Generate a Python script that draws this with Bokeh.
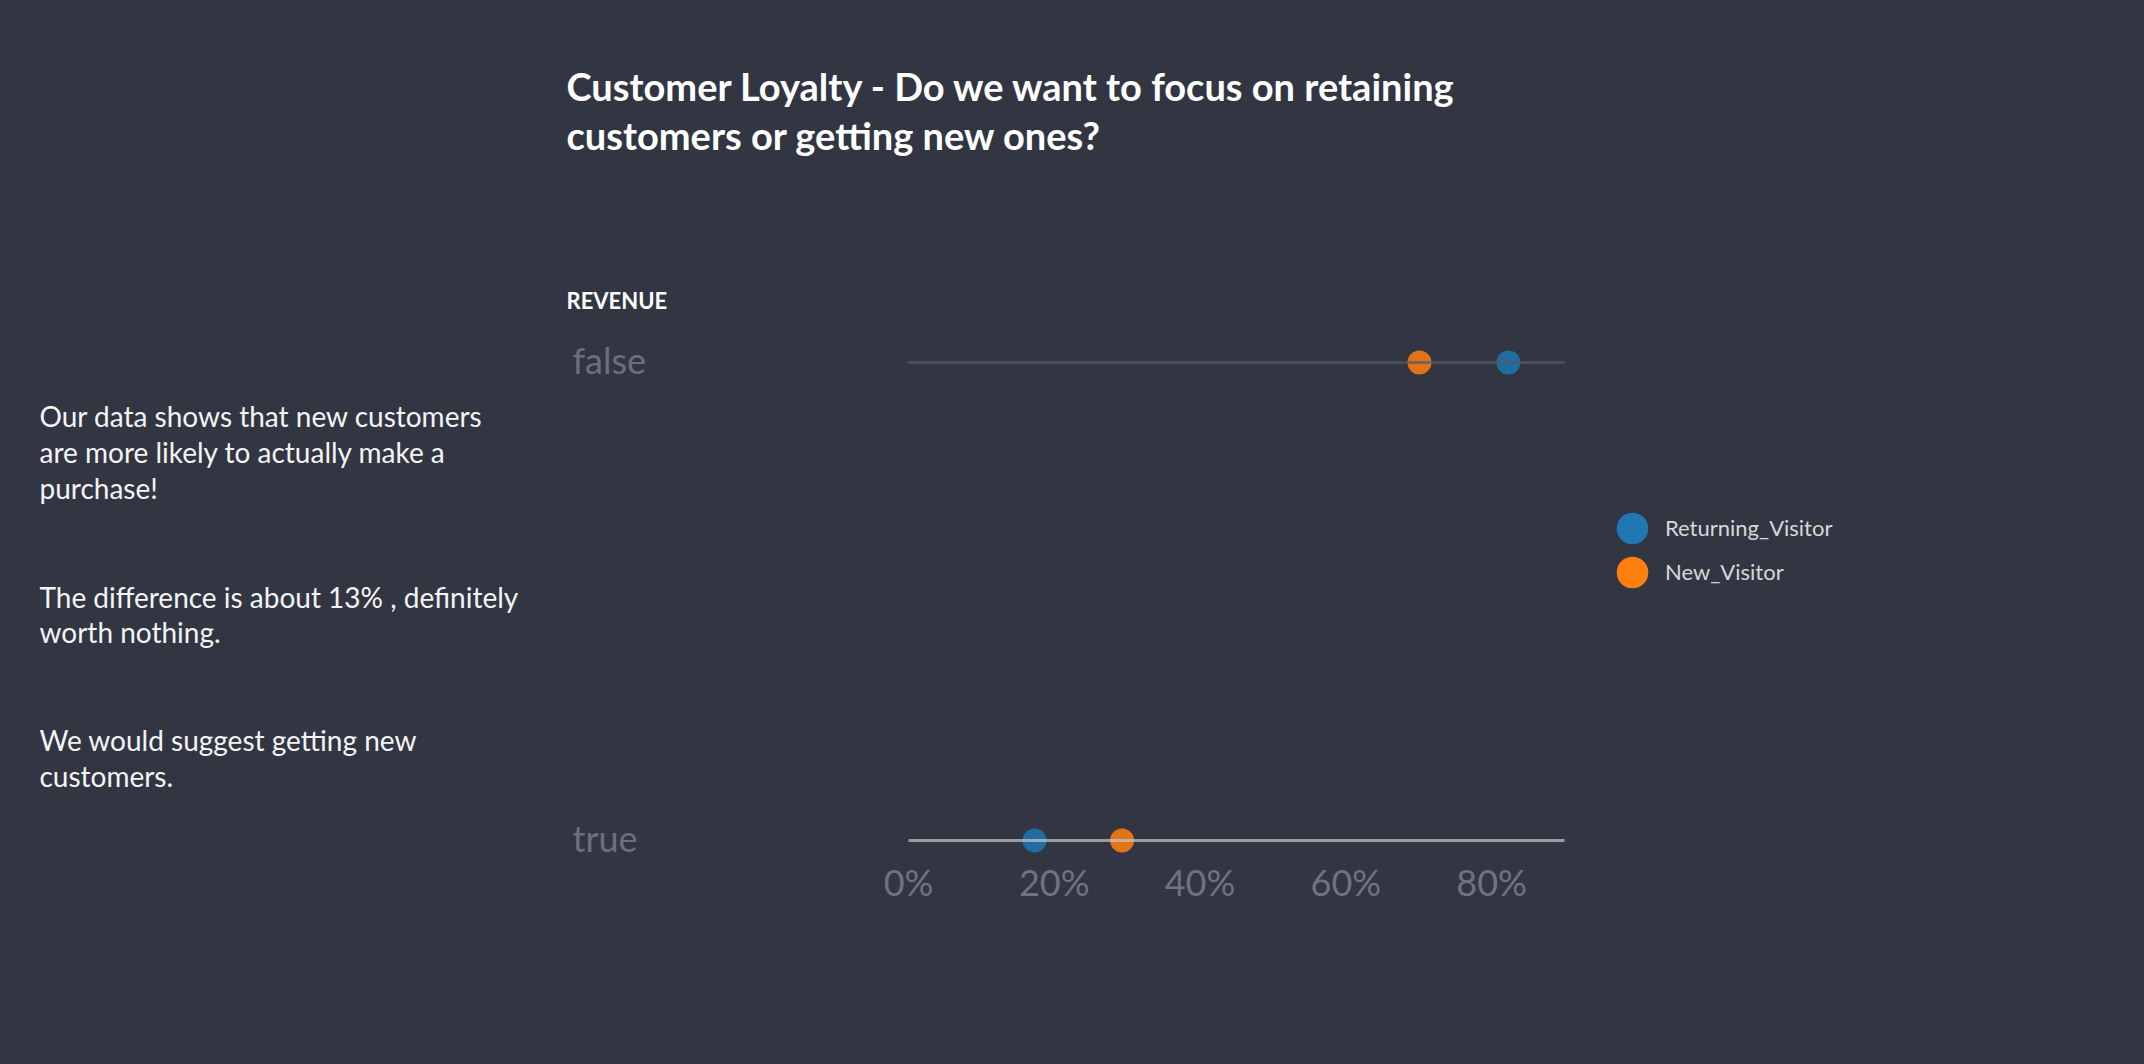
from bokeh.plotting import figure
from bokeh.layouts import column
from bokeh.models import (ColumnDataSource, FactorRange, Range1d, FixedTicker,
                          NumeralTickFormatter, Label, Legend, LegendItem)
from bokeh.core.properties import value
from bokeh.embed import file_html
from bokeh.resources import INLINE

# ---------------- data ----------------
revenue = ["false", "true"]
returning_visitor = [0.823, 0.173]
new_visitor = [0.701, 0.293]
series_names = ["Returning_Visitor", "New_Visitor"]
series_colors = ["#1f77b4", "#ff7f0e"]
tick_values = [0.0, 0.2, 0.4, 0.6, 0.8]
x_lo, x_hi = 0.0, 0.9
row_line_colors = ["#565a64", "#c8c8c8"]

title_lines = ["Customer Loyalty - Do we want to focus on retaining",
               "customers or getting new ones?"]
row_header = "REVENUE"
side_text = [
    ["Our data shows that new customers", "are more likely to actually make a", "purchase!"],
    ["The difference is about 13% , definitely", "worth nothing."],
    ["We would suggest getting new", "customers."],
]

# ---------------- layout ----------------
W, H = 2144, 1064
TOP_H = 320                 # header strip height (= page y of chart frame top)
ROW_TOP_Y, ROW_BOT_Y = 362, 840   # page y of the two category rows
PAD = ROW_TOP_Y - TOP_H
FRAME_BOTTOM = ROW_BOT_Y + PAD    # page y of the chart frame's bottom edge
AX_L, AX_R = 908, 1564      # page x of the axis domain
BG = "#323642"
FONT = "Lato"
row_px = ROW_BOT_Y - ROW_TOP_Y
y_pad = ((FRAME_BOTTOM - TOP_H) / row_px - len(revenue)) / 2


def style(fig):
    fig.background_fill_color = BG
    fig.border_fill_color = None
    fig.outline_line_color = None
    fig.grid.visible = False
    fig.styles = {"background-color": BG}


# header figure (title + row header)
top = figure(width=W, height=TOP_H, output_backend="svg", toolbar_location=None,
             x_range=Range1d(0, W), y_range=Range1d(0, TOP_H),
             x_axis_location=None, y_axis_location=None,
             min_border=0)
style(top)
for t, base in zip(title_lines, [101 - 16, 150 - 16]):
    top.add_layout(Label(x=566, y=TOP_H - base, x_units="screen", y_units="screen", text=t,
                         text_font=FONT, text_font_style="bold", text_font_size="38px",
                         text_color="#ffffff", text_baseline="alphabetic"))
top.add_layout(Label(x=566, y=TOP_H - (308 - 8), x_units="screen", y_units="screen",
                     text=row_header, text_font=FONT, text_font_style="bold",
                     text_font_size="22px", text_color="#ffffff",
                     text_baseline="alphabetic"))

# main chart figure
px_per_unit = (AX_R - AX_L) / (x_hi - x_lo)
x_start = x_lo - AX_L / px_per_unit
x_end = x_hi + (W - AX_R) / px_per_unit

p = figure(width=W, height=H - TOP_H, output_backend="svg", toolbar_location=None,
           x_range=Range1d(x_start, x_end),
           y_range=FactorRange(factors=revenue[::-1], range_padding=y_pad,
                               range_padding_units="absolute"),
           min_border_left=0, min_border_right=0, min_border_top=0,
           min_border_bottom=H - FRAME_BOTTOM)
style(p)
p.yaxis.visible = False

ax = p.xaxis[0]
ax.ticker = FixedTicker(ticks=tick_values)
ax.formatter = NumeralTickFormatter(format="0%")
ax.axis_line_color = None
ax.major_tick_line_color = None
ax.minor_tick_line_color = None
ax.major_label_standoff = -9 - (FRAME_BOTTOM - 862)
ax.major_label_text_font = FONT
ax.major_label_text_font_size = "36px"
ax.major_label_text_color = "#6e737e"

src_ret = ColumnDataSource(dict(x=returning_visitor, y=revenue))
src_new = ColumnDataSource(dict(x=new_visitor, y=revenue))
sources = [src_ret, src_new]
for src, c in zip(sources, series_colors):
    p.scatter("x", "y", source=src, size=24, fill_color=c, fill_alpha=0.85, line_color=None)

# row rules spanning the axis domain
p.segment(x0=[x_lo] * len(revenue), x1=[x_hi] * len(revenue), y0=revenue, y1=revenue,
          line_color=row_line_colors, line_width=3, line_alpha=0.7)

# category labels (row header column, left of the axis)
cat_src = ColumnDataSource(dict(x=[x_lo] * len(revenue), y=revenue, t=revenue))
p.text(x="x", y="y", text="t", source=cat_src, x_offset=572 - AX_L, y_offset=-3,
       text_font=value(FONT), text_font_size="36px", text_color="#6b707b",
       text_baseline="middle", text_align="left")

# explanatory side text
baselines = [[426.7, 462, 498], [607, 642], [750, 786]]
for para, bl in zip(side_text, baselines):
    for line, b in zip(para, bl):
        p.add_layout(Label(x=39, y=FRAME_BOTTOM - (b - 11), x_units="screen",
                           y_units="screen", text=line, text_font=FONT,
                           text_font_size="28px", text_color="#f4f4f4",
                           text_baseline="alphabetic"))

# legend (swatch renderers share the data but are hidden from the plot area)
leg_r = []
for src, c in zip(sources, series_colors):
    leg_r.append(p.scatter("x", "y", source=src, size=18, fill_color=c, line_color=c,
                           line_width=14, visible=False))
legend = Legend(items=[LegendItem(label=n, renderers=[r]) for n, r in zip(series_names, leg_r)],
                location=(1610, FRAME_BOTTOM - 593.7), orientation="vertical",
                glyph_width=44, glyph_height=44, spacing=0, padding=0, margin=0,
                label_standoff=11, border_line_color=None, background_fill_alpha=0,
                label_text_font=FONT, label_text_font_size="22px",
                label_text_color="#d8d8d8", inactive_fill_alpha=0)
p.add_layout(legend)

layout = column(top, p, spacing=0, styles={"background-color": BG})
open("out.html", "w").write(file_html(layout, INLINE))
